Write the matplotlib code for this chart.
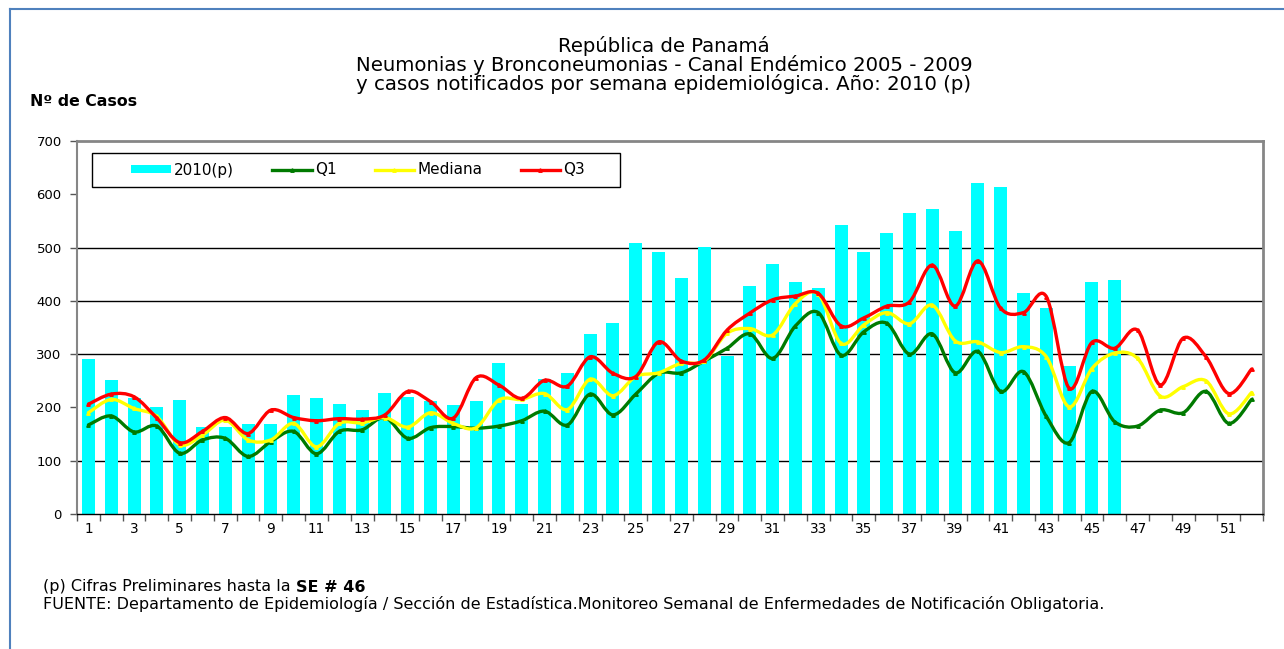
import numpy as np
import matplotlib
matplotlib.use("Agg")
import matplotlib.pyplot as plt
from matplotlib.path import Path
from matplotlib.patches import PathPatch, Patch, Rectangle
from matplotlib.lines import Line2D

plt.rcParams['font.family'] = ['DejaVu Sans']

# ---------------- data ----------------
weeks = list(range(1, 53))
casos_2010 = [290, 251, 218, 200, 214, 164, 164, 169, 169, 223, 218, 206, 195, 227, 220, 212, 204, 212,
              283, 206, 254, 264, 338, 358, 508, 492, 443, 501, 296, 428, 469, 435, 424, 542, 492, 527,
              565, 572, 531, 621, 614, 415, 387, 278, 435, 439]
q1 = [167, 184, 154, 165, 114, 139, 142, 108, 136, 155, 113, 155, 158, 181, 142, 162, 164, 161, 165, 175,
      193, 167, 225, 186, 225, 264, 265, 287, 311, 338, 292, 353, 378, 298, 342, 358, 300, 338, 265, 305,
      230, 267, 183, 134, 230, 173, 165, 195, 190, 230, 170, 215]
mediana = [190, 215, 198, 183, 130, 148, 176, 139, 139, 170, 126, 170, 171, 181, 163, 190, 170, 162, 214, 215,
           226, 196, 253, 222, 258, 265, 283, 287, 339, 348, 336, 395, 413, 320, 355, 378, 357, 392, 325, 323,
           303, 314, 295, 201, 273, 302, 292, 221, 239, 250, 188, 228]
q3 = [206, 225, 220, 180, 134, 155, 181, 151, 195, 181, 175, 179, 178, 186, 230, 211, 180, 256, 242, 217,
      251, 240, 295, 264, 258, 323, 287, 289, 345, 377, 402, 409, 414, 353, 368, 390, 398, 467, 390, 475,
      386, 378, 408, 236, 322, 311, 345, 242, 330, 295, 226, 272]
series_labels = ["2010(p)", "Q1", "Mediana", "Q3"]
yticks = [0, 100, 200, 300, 400, 500, 600, 700]
grid_levels = [100, 300, 400, 500]
xtick_labels = [str(w) for w in weeks if w % 2 == 1]

title_lines = ["República de Panamá",
               "Neumonias y Bronconeumonias - Canal Endémico 2005 - 2009",
               "y casos notificados por semana epidemiológica. Año: 2010 (p)"]
ylabel = "Nº de Casos"
note_normal = "(p) Cifras Preliminares hasta la "
note_bold = "SE # 46"
fuente = ("FUENTE: Departamento de Epidemiología / Sección de Estadística.Monitoreo Semanal de "
          "Enfermedades de Notificación Obligatoria.")

# ---------------- figure ----------------
W, H = 1284, 649
fig = plt.figure(figsize=(W / 100, H / 100), dpi=100)
fig.patch.set_facecolor("white")

L, R, T, B = 77, 1263, 141, 514
ax = fig.add_axes([L / W, 1 - B / H, (R - L) / W, (B - T) / H])

# bars
ax.bar(weeks[:len(casos_2010)], casos_2010, width=0.57, color="#00FFFF", zorder=2)


def smooth_path(x, y):
    x = np.asarray(x, float)
    y = np.asarray(y, float)
    n = len(x)
    verts = [(x[0], y[0])]
    codes = [Path.MOVETO]
    for i in range(n - 1):
        a = i - 1 if i > 0 else i
        d = i + 2 if i + 2 < n else i + 1
        c1 = (x[i] + (x[i + 1] - x[a]) / 6.0, y[i] + (y[i + 1] - y[a]) / 6.0)
        c2 = (x[i + 1] - (x[d] - x[i]) / 6.0, y[i + 1] - (y[d] - y[i]) / 6.0)
        verts += [c1, c2, (x[i + 1], y[i + 1])]
        codes += [Path.CURVE4] * 3
    return Path(verts, codes)


line_specs = [(q1, "#007A00"), (mediana, "#FFFF00"), (q3, "#FF0000")]
for k, (vals, col) in enumerate(line_specs):
    ax.add_patch(PathPatch(smooth_path(weeks, vals), facecolor="none", edgecolor=col,
                           lw=2.4, capstyle="round", joinstyle="round", zorder=4 + k))
    ax.plot(weeks, vals, linestyle="none", marker="^", ms=2.5, color=col, zorder=4 + k)

# axes
ax.set_xlim(0.5, 52.5)
ax.set_ylim(0, 700)
ax.set_yticks(yticks)
ax.set_yticklabels([str(v) for v in yticks], fontsize=9.5)
for g in grid_levels:
    ax.axhline(g, color="black", lw=1.0, zorder=1)

ax.set_xticks(np.arange(0.5, 53.0, 1.0))
ax.set_xticklabels([])
ax.set_xticks([w for w in weeks if w % 2 == 1], minor=True)
ax.set_xticklabels(xtick_labels, minor=True, fontsize=9.8)
ax.tick_params(axis="x", which="major", direction="out", length=5, width=1, color="#555555")
ax.tick_params(axis="x", which="minor", length=0, pad=6)
ax.tick_params(axis="y", direction="out", length=5, width=1, color="#555555", pad=6)

for s in ["top", "right"]:
    ax.spines[s].set_color("#868686")
    ax.spines[s].set_linewidth(2.0)
ax.spines["left"].set_color("#868686")
ax.spines["left"].set_linewidth(1.5)
ax.spines["bottom"].set_color("black")
ax.spines["bottom"].set_linewidth(1.0)


# legend (frame drawn separately)
def ax_x(px):
    return (px - L) / (R - L)


def ax_y(py):
    return 1 - (py - T) / (B - T)


ax.add_patch(Rectangle((ax_x(92), ax_y(187)), ax_x(620) - ax_x(92), ax_y(153) - ax_y(187),
                       transform=ax.transAxes, facecolor="white", edgecolor="black", lw=1.0,
                       zorder=9, clip_on=False))
handles = [Patch(facecolor="#00FFFF", edgecolor="none"),
           Line2D([], [], color="#007A00", lw=2.4, marker="^", ms=2.5),
           Line2D([], [], color="#FFFF00", lw=2.4, marker="^", ms=2.5),
           Line2D([], [], color="#FF0000", lw=2.4, marker="^", ms=2.5)]
leg = ax.legend(handles, series_labels, loc="center left",
                bbox_to_anchor=(ax_x(131), ax_y(170)),
                ncol=4, fontsize=11, frameon=False,
                handlelength=2.6, handleheight=0.5, handletextpad=0.2, columnspacing=2.5,
                borderpad=0.0, borderaxespad=0.0)
leg.set_zorder(10)

# titles
cx = 664 / W
for txt, yp in zip(title_lines, [46, 65, 84]):
    fig.text(cx, 1 - yp / H, txt, ha="center", va="center", fontsize=14.2, color="black")
fig.text(30 / W, 1 - 102 / H, ylabel, ha="left", va="center", fontsize=11.3, fontweight="bold")

# footer
fs_foot = 11.5
t1 = fig.text(43 / W, 1 - 587 / H, note_normal, ha="left", va="center", fontsize=fs_foot)
fig.canvas.draw()
bb = t1.get_window_extent(renderer=fig.canvas.get_renderer())
fig.text(bb.x1 / W, 1 - 587 / H, note_bold, ha="left", va="center", fontsize=fs_foot, fontweight="bold")
fig.text(43 / W, 1 - 604 / H, fuente, ha="left", va="center", fontsize=fs_foot)

# page frame (blue)
fig.add_artist(Line2D([10 / W, 1.0], [1 - 9 / H, 1 - 9 / H], transform=fig.transFigure,
                      color="#4F81BD", lw=1.5))
fig.add_artist(Line2D([10 / W, 10 / W], [0.0, 1 - 9 / H], transform=fig.transFigure,
                      color="#4F81BD", lw=1.5))

fig.savefig("out.png", dpi=100, facecolor="white")
